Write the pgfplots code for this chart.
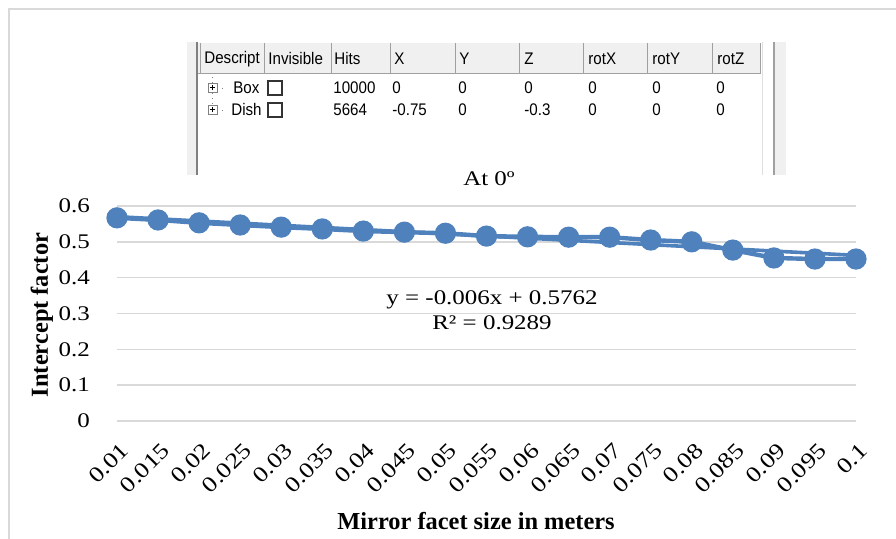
\documentclass[border=0pt]{standalone}
\usepackage{fontspec}
\setmainfont{Liberation Serif}
\newfontfamily\widefont{Liberation Serif}[FakeStretch=1.2]
\newfontfamily\uifont{Liberation Sans}[FakeStretch=0.9]
\usepackage{pgfplots}
\pgfplotsset{compat=1.18}
\definecolor{serblue}{HTML}{4F81BD}
\definecolor{gridgray}{HTML}{D9D9D9}
\definecolor{uigray}{HTML}{F0F0F0}
\definecolor{uiline}{HTML}{A0A0A0}

\pgfplotstableread{
idx val
1  0.567
2  0.561
3  0.553
4  0.547
5  0.541
6  0.536
7  0.530
8  0.527
9  0.524
10 0.516
11 0.514
12 0.513
13 0.513
14 0.505
15 0.500
16 0.477
17 0.455
18 0.452
19 0.452
}\facetdata

\begin{document}
\begin{tikzpicture}[x=0.5pt,y=0.5pt]
\useasboundingbox (0,0) rectangle (896,539);
% outer chart frame (cut by the page at right and bottom)
\draw[gridgray, line width=0.8pt] (9,-20) -- (9,530) -- (920,530);

% ---- screenshot of the ray-tracing table ----
\fill[uigray] (187,364) rectangle (786,497);
\fill[white] (198,364) rectangle (773,497);
\fill[uigray] (198,465) rectangle (760,496);
\draw[uiline, line width=0.5pt] (198,465) -- (760,465);
\foreach \cx in {200,264,331,390,455,519,583,647,712,760}
  \draw[uiline, line width=0.5pt] (\cx,465) -- (\cx,496);
\draw[gray, line width=0.8pt] (197,364) -- (197,497);
\draw[uiline, line width=1pt] (774,364) -- (774,497);
\draw[gray!25, line width=0.4pt] (762,364) -- (762,497);
\begin{scope}[every node/.style={font=\uifont\fontsize{8.4}{9}\selectfont, inner sep=0pt, anchor=west}]
  \node at (204,480) {Descript};
  \node at (268,480) {Invisible};
  \node at (334,480) {Hits};
  \node at (394,480) {X};
  \node at (459,480) {Y};
  \node at (524,480) {Z};
  \node at (588,480) {rotX};
  \node at (652,480) {rotY};
  \node at (717,480) {rotZ};
  \node at (233,451) {Box};
  \node at (231,429) {Dish};
  \node at (333,451) {10000};
  \node at (333,429) {5664};
  \node at (392,451) {0};
  \node at (392,429) {-0.75};
  \node at (458,451) {0};
  \node at (458,429) {0};
  \node at (524,451) {0};
  \node at (524,429) {-0.3};
  \node at (588,451) {0};
  \node at (588,429) {0};
  \node at (652,451) {0};
  \node at (652,429) {0};
  \node at (716,451) {0};
  \node at (716,429) {0};
\end{scope}
% expand icons, tree lines and check boxes
\foreach \ry in {451,429} {
  \draw[gray, line width=0.4pt, fill=white] (208,\ry-4.5) rectangle (217,\ry+4.5);
  \draw[black, line width=0.5pt] (210,\ry) -- (215,\ry) (212.5,\ry-2.5) -- (212.5,\ry+2.5);
  \draw[gray, line width=0.4pt, dotted] (217,\ry) -- (225,\ry);
  \draw[black!80, line width=0.6pt] (268,\ry-7) rectangle (282,\ry+7);
}
\draw[gray, line width=0.4pt, dotted] (212.5,456) -- (212.5,462);
\draw[gray, line width=0.4pt, dotted] (212.5,446) -- (212.5,434);

% chart title
\node[font=\widefont\fontsize{10.4}{12}\selectfont, inner sep=0pt] at (489,360) {At 0º};

\begin{axis}[
    at={(58.5pt,59pt)}, anchor=south west,
    scale only axis,
    width=369.5pt, height=107.5pt,
    xmin=1, xmax=19,
    ymin=0, ymax=0.6,
    xtick={1,...,19},
    xticklabels={0.01,0.015,0.02,0.025,0.03,0.035,0.04,0.045,0.05,0.055,0.06,0.065,0.07,0.075,0.08,0.085,0.09,0.095,0.1},
    ytick={0,0.1,0.2,0.3,0.4,0.5,0.6},
    yticklabels={0,0.1,0.2,0.3,0.4,0.5,0.6},
    ymajorgrids,
    grid style={gridgray, line width=0.75pt},
    axis line style={draw=none},
    major tick style={draw=none},
    yticklabel style={font=\widefont\fontsize{10.4}{12}\selectfont, anchor=east, xshift=-10pt},
    xticklabel style={font=\widefont\fontsize{11}{12}\selectfont, rotate=45, anchor=east, yshift=-12pt, xshift=-3pt},
    clip=false,
]
% linear trendline y = -0.006x + 0.5762, drawn between first and last category
\addplot[serblue, line width=1.8pt] coordinates {(1,0.5702) (19,0.4622)};
\addplot[serblue, line width=2.2pt, mark=*, mark size=4.2pt,
    mark options={fill=serblue, draw=serblue}] table[x=idx, y=val] {\facetdata};
\end{axis}

% trendline equation
\node[font=\widefont\fontsize{10.4}{12}\selectfont, inner sep=0pt] at (492,239) {y = -0.006x + 0.5762};
\node[font=\widefont\fontsize{10.4}{12}\selectfont, inner sep=0pt] at (492,216) {R² = 0.9289};

% axis titles
\node[font=\bfseries\fontsize{12.2}{14}\selectfont, rotate=90, inner sep=0pt] at (42,224) {Intercept factor};
\node[font=\bfseries\fontsize{12.2}{14}\selectfont, inner sep=0pt] at (476,18) {Mirror facet size in meters};
\end{tikzpicture}
\end{document}
